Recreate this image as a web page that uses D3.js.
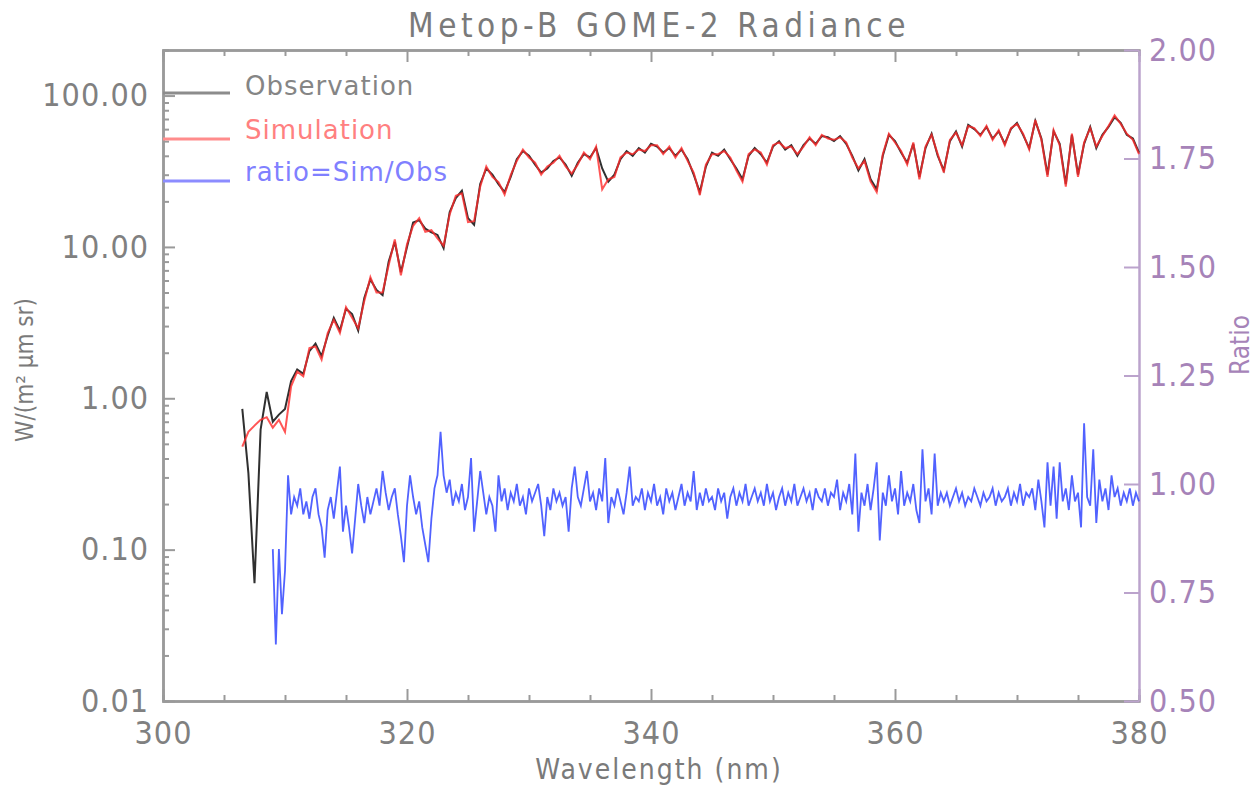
<!DOCTYPE html>
<html>
<head>
<meta charset="utf-8">
<title>Metop-B GOME-2 Radiance</title>
<script src="https://cdn.jsdelivr.net/npm/d3@7"></script>
<style>
    body { margin: 0; background: #fff; }
    #chart-area text { font-family: 'DejaVu Sans Condensed', 'Liberation Sans Narrow', 'DejaVu Sans', sans-serif; }
</style>
</head>
<body>
<div id="chart-area"></div>
<script>

let obsStart = 306.5;
let obsStep = 0.5;

let observation = [
    0.85, 0.32, 0.06, 0.62, 1.10, 0.70, 0.78, 0.85, 1.30, 1.55,
    1.45, 2.05, 2.30, 1.90, 2.60, 3.40, 2.80, 3.90, 3.60, 2.80,
    4.60, 6.10, 5.20, 4.80, 8.00, 10.8, 6.80, 10.0, 14.5, 15.0,
    13.2, 12.5, 12.0, 9.80, 17.0, 21.0, 23.5, 15.5, 14.0, 26.0,
    33.0, 30.0, 26.0, 23.0, 29.0, 38.0, 43.0, 40.0, 35.0, 31.0,
    33.0, 37.0, 39.0, 35.0, 29.5, 36.0, 41.0, 39.0, 45.0, 33.0,
    27.0, 30.0, 38.0, 43.0, 40.0, 45.0, 42.0, 48.0, 46.0, 42.0,
    45.0, 40.0, 44.0, 38.0, 30.0, 23.0, 34.0, 42.0, 40.0, 44.0,
    38.0, 33.0, 28.0, 40.0, 45.0, 41.0, 36.0, 46.0, 50.0, 44.0,
    47.0, 40.0, 47.0, 52.0, 48.0, 54.0, 53.0, 50.0, 54.0, 48.0,
    40.0, 32.0, 38.0, 28.0, 24.0, 40.0, 55.0, 50.0, 42.0, 36.0,
    48.0, 29.0, 45.0, 56.0, 40.0, 32.0, 50.0, 58.0, 46.0, 64.0,
    60.0, 55.0, 62.0, 52.0, 58.0, 48.0, 60.0, 66.0, 55.0, 45.0,
    68.0, 52.0, 30.0, 58.0, 48.0, 26.0, 55.0, 30.0, 48.0, 62.0,
    45.0, 55.0, 62.0, 72.0, 66.0, 55.0, 52.0, 42.0
];

let simulation = [
    0.48, 0.60, 0.66, 0.72, 0.75, 0.64, 0.72, 0.60, 1.20, 1.50,
    1.40, 2.15, 2.20, 1.80, 2.70, 3.30, 2.70, 4.00, 3.40, 2.90,
    4.40, 6.30, 5.00, 5.00, 7.60, 11.2, 6.50, 10.4, 13.8, 15.5,
    12.6, 12.9, 11.4, 10.2, 16.4, 21.8, 22.6, 14.6, 14.8, 25.0,
    34.0, 29.0, 26.8, 22.2, 29.8, 37.0, 44.0, 39.0, 36.0, 30.0,
    34.0, 36.0, 40.0, 34.0, 30.5, 35.0, 42.0, 38.0, 46.0, 24.0,
    28.0, 29.0, 39.0, 42.0, 41.0, 44.0, 43.0, 47.0, 47.0, 41.0,
    46.0, 39.0, 45.0, 37.0, 31.0, 22.0, 35.0, 41.0, 41.0, 43.0,
    39.0, 32.0, 27.0, 41.0, 44.0, 42.0, 35.0, 47.0, 49.0, 45.0,
    46.0, 41.0, 46.0, 53.0, 47.0, 55.0, 52.0, 51.0, 53.0, 49.0,
    39.0, 33.0, 37.0, 27.0, 23.0, 41.0, 56.0, 49.0, 43.0, 35.0,
    49.0, 28.0, 46.0, 55.0, 41.0, 31.0, 51.0, 57.0, 47.0, 63.0,
    61.0, 54.0, 63.0, 51.0, 59.0, 47.0, 61.0, 65.0, 56.0, 44.0,
    69.0, 51.0, 29.0, 59.0, 47.0, 25.0, 56.0, 29.0, 49.0, 61.0,
    46.0, 54.0, 63.0, 74.0, 65.0, 56.0, 51.0, 41.0
];

// ratio is on a finer grid, every 0.25 nm from 309 nm
let ratioStart = 309.0;
let ratioStep = 0.25;

let ratio = [
    0.85, 0.63, 0.85, 0.70, 0.80, 1.02, 0.93, 0.97, 0.95, 0.99, 0.93, 0.96, 0.92, 0.97, 0.99, 0.93, 0.90, 0.83, 0.94, 0.97,
    0.92, 0.98, 1.04, 0.89, 0.95, 0.90, 0.84, 0.92, 1.00, 0.95, 0.91, 0.97, 0.93, 0.96, 0.99, 0.95, 1.03, 0.98, 0.94, 0.97,
    0.99, 0.93, 0.88, 0.82, 0.95, 1.02, 0.97, 0.93, 0.96, 0.90, 0.86, 0.82, 0.92, 0.99, 1.02, 1.12, 1.02, 0.98, 1.01, 0.95,
    0.98, 0.96, 1.00, 0.94, 0.97, 1.06, 0.89, 0.96, 1.03, 0.98, 0.93, 0.97, 0.95, 0.89, 1.02, 0.96, 0.99, 0.94, 0.98, 0.96,
    1.00, 0.95, 0.97, 0.93, 0.99, 0.96, 0.98, 1.00, 0.95, 0.88, 0.97, 0.94, 0.99, 0.96, 0.98, 0.95, 0.97, 0.89, 0.99, 1.04,
    0.97, 0.95, 0.99, 1.03, 0.96, 0.98, 0.94, 0.99, 0.96, 1.06, 0.91, 0.97, 0.95, 0.99, 0.96, 0.93, 0.98, 1.04, 0.95, 0.97,
    0.96, 0.99, 0.94, 0.98, 0.96, 1.00, 0.95, 0.97, 0.93, 0.99, 0.96, 0.98, 0.94, 0.97, 1.00, 0.95, 0.98, 0.96, 1.03, 0.94,
    0.98, 0.95, 0.99, 0.96, 0.97, 0.94, 0.99, 0.96, 0.98, 0.92, 0.97, 0.99, 0.95, 0.98, 0.96, 1.00, 0.95, 0.97, 0.99, 0.96,
    0.98, 0.95, 1.00, 0.96, 0.98, 0.94, 0.97, 0.99, 0.95, 0.98, 0.96, 1.00, 0.95, 0.97, 0.99, 0.96, 0.98, 0.94, 0.99, 0.97,
    0.96, 0.99, 0.95, 0.98, 0.97, 1.01, 0.94, 0.98, 0.96, 1.00, 0.93, 1.07, 0.89, 0.98, 0.95, 1.00, 0.94, 0.99, 1.05, 0.87,
    0.98, 0.95, 1.02, 0.96, 0.99, 0.93, 1.03, 0.95, 0.98, 0.96, 1.00, 0.94, 0.91, 1.08, 0.96, 0.99, 0.93, 1.07, 0.95, 0.98,
    0.96, 0.98, 0.95, 0.97, 0.99, 0.96, 0.98, 0.95, 0.97, 0.96, 0.99, 0.97, 0.95, 0.98, 0.96, 0.97, 0.99, 0.95, 0.98, 0.96,
    0.97, 0.99, 0.95, 0.98, 0.96, 1.00, 0.95, 0.98, 0.97, 0.99, 0.94, 1.01, 0.96, 0.90, 1.05, 0.95, 1.04, 0.92, 1.05, 0.96,
    0.99, 0.94, 1.02, 0.96, 0.98, 0.90, 1.14, 0.97, 0.95, 1.08, 0.91, 1.01, 0.96, 0.99, 0.94, 1.02, 0.97, 0.99, 0.95, 0.98,
    0.96, 0.99, 0.95, 0.98, 0.96
];

// axes
let xTicks = [300, 320, 340, 360, 380];
let yTicks = [0.01, 0.1, 1, 10, 100];
let ratioTicks = [0.5, 0.75, 1.0, 1.25, 1.5, 1.75, 2.0];

let legendLabels = ['Observation', 'Simulation', 'ratio=Sim/Obs'];


class SpectrumChart {

    constructor(parentElement) {
        this.parentElement = parentElement;

        this.initVis()
    }

    initVis() {

        let vis = this;

        vis.margin = {top: 50, right: 115, bottom: 84, left: 163};
        vis.width = 1254 - vis.margin.left - vis.margin.right;
        vis.height = 785 - vis.margin.top - vis.margin.bottom;

        vis.svg = d3.select('#' + vis.parentElement).append('svg')
            .attr('width', vis.width + vis.margin.left + vis.margin.right)
            .attr('height', vis.height + vis.margin.top + vis.margin.bottom)
            .append('g')
            .attr('transform', `translate (${vis.margin.left}, ${vis.margin.top})`);

        // scales
        vis.xScale = d3.scaleLinear()
            .domain([300, 380])
            .range([0, vis.width]);

        vis.yScale = d3.scaleLog()
            .domain([0.01, 200])
            .range([vis.height, 0]);

        vis.rScale = d3.scaleLinear()
            .domain([0.5, 2.0])
            .range([vis.height, 0]);

        // title
        vis.svg.append('text')
            .attr('x', vis.width / 2 + 8)
            .attr('y', -25)
            .attr('text-anchor', 'middle')
            .attr('dominant-baseline', 'central')
            .style('font-size', '33px')
            .style('letter-spacing', '4.5px')
            .style('fill', '#7a7a7a')
            .text('Metop-B GOME-2 Radiance');

        // axis titles
        vis.svg.append('text')
            .attr('x', vis.width / 2 + 8)
            .attr('y', vis.height + 68)
            .attr('text-anchor', 'middle')
            .attr('dominant-baseline', 'central')
            .style('font-size', '28px')
            .style('letter-spacing', '2px')
            .style('fill', '#7a7a7a')
            .text('Wavelength (nm)');

        vis.svg.append('text')
            .attr('transform', `translate(${-138}, ${320}) rotate(-90)`)
            .attr('text-anchor', 'middle')
            .attr('dominant-baseline', 'central')
            .style('font-size', '24px')
            .style('fill', '#7a7a7a')
            .text('W/(m² µm sr)');

        vis.svg.append('text')
            .attr('transform', `translate(${vis.width + 101}, ${295}) rotate(-90)`)
            .attr('text-anchor', 'middle')
            .attr('dominant-baseline', 'central')
            .style('font-size', '26px')
            .style('fill', '#a683b8')
            .text('Ratio');

        vis.wrangleData()
    }

    wrangleData() {

        let vis = this;

        vis.obsData = observation.map((v, i) => ({wl: obsStart + i * obsStep, value: v}));
        vis.simData = simulation.map((v, i) => ({wl: obsStart + i * obsStep, value: v}));
        vis.ratioData = ratio.map((v, i) => ({wl: ratioStart + i * ratioStep, value: v}));

        vis.updateVis()
    }

    updateVis() {

        let vis = this;

        let grey = '#9a9a9a';
        let labelGrey = '#808080';
        let purple = '#bba3cc';

        // minor ticks every 5 nm, major every 20
        let xMinor = d3.range(300, 381, 5).filter(d => xTicks.indexOf(d) < 0);
        let yMinor = [];
        yTicks.forEach(t => {
            d3.range(2, 10).forEach(m => {
                if (t * m <= 200) yMinor.push(t * m);
            });
        });

        function styleAxis(g, col, txtCol) {
            g.select('.domain').attr('stroke', col).attr('stroke-width', 2.5);
            g.selectAll('.tick line').attr('stroke', col).attr('stroke-width', 2);
            g.selectAll('.tick text')
                .style('fill', txtCol)
                .style('font-size', '32px')
                .style('letter-spacing', '1px');
        }

        // bottom
        vis.svg.append('g')
            .attr('transform', `translate(0, ${vis.height})`)
            .call(d3.axisBottom(vis.xScale).tickValues(xMinor).tickSize(-6).tickFormat(''))
            .call(g => styleAxis(g, grey, labelGrey));
        vis.svg.append('g')
            .attr('class', 'x-axis axis')
            .attr('transform', `translate(0, ${vis.height})`)
            .call(d3.axisBottom(vis.xScale).tickValues(xTicks).tickSizeInner(-12).tickSizeOuter(0).tickPadding(20).tickFormat(d3.format('d')))
            .call(g => styleAxis(g, grey, labelGrey));

        // top
        vis.svg.append('g')
            .call(d3.axisTop(vis.xScale).tickValues(xMinor).tickSize(-6).tickFormat(''))
            .call(g => styleAxis(g, grey, labelGrey));
        vis.svg.append('g')
            .call(d3.axisTop(vis.xScale).tickValues(xTicks).tickSizeInner(-12).tickSizeOuter(0).tickFormat(''))
            .call(g => styleAxis(g, grey, labelGrey));

        // left, log
        vis.svg.append('g')
            .call(d3.axisLeft(vis.yScale).tickValues(yMinor).tickSize(-6).tickFormat(''))
            .call(g => styleAxis(g, grey, labelGrey));
        vis.svg.append('g')
            .attr('class', 'y-axis axis')
            .call(d3.axisLeft(vis.yScale).tickValues(yTicks).tickSizeInner(-12).tickSizeOuter(0).tickPadding(14).tickFormat(d3.format('.2f')))
            .call(g => styleAxis(g, grey, labelGrey));

        // right, ratio
        vis.svg.append('g')
            .attr('class', 'r-axis axis')
            .attr('transform', `translate(${vis.width}, 0)`)
            .call(d3.axisRight(vis.rScale).tickValues(ratioTicks).tickSizeInner(-15).tickSizeOuter(0).tickPadding(10).tickFormat(d3.format('.2f')))
            .call(g => styleAxis(g, purple, '#a683b8'));

        // lines
        let radLine = d3.line()
            .x(d => vis.xScale(d.wl))
            .y(d => vis.yScale(d.value));

        let ratioLine = d3.line()
            .x(d => vis.xScale(d.wl))
            .y(d => vis.rScale(d.value));

        vis.svg.append('path')
            .datum(vis.obsData)
            .attr('d', radLine)
            .attr('fill', 'none')
            .attr('stroke', '#303030')
            .attr('stroke-width', 2);

        vis.svg.append('path')
            .datum(vis.simData)
            .attr('d', radLine)
            .attr('fill', 'none')
            .attr('stroke', '#ff2a2a')
            .attr('stroke-opacity', 0.8)
            .attr('stroke-width', 2);

        vis.svg.append('path')
            .datum(vis.ratioData)
            .attr('d', ratioLine)
            .attr('fill', 'none')
            .attr('stroke', '#3347ff')
            .attr('stroke-opacity', 0.85)
            .attr('stroke-width', 1.8);

        // legend
        let legendColors = ['#8c8c8c', '#ff8c8c', '#8c8cff'];
        let legendText = ['#858585', '#ff8080', '#8080ff'];
        let legendY = [42, 86, 128];

        let legend = vis.svg.selectAll('.legend')
            .data(legendLabels)
            .enter()
            .append('g')
            .attr('class', 'legend')
            .attr('transform', (d, i) => `translate(0, ${legendY[i]})`);

        legend.append('line')
            .attr('x1', 0)
            .attr('x2', 67)
            .attr('y1', (d, i) => [1, 3, 3][i])
            .attr('y2', (d, i) => [1, 3, 3][i])
            .attr('stroke', (d, i) => legendColors[i])
            .attr('stroke-width', 3);

        legend.append('text')
            .attr('x', 82)
            .attr('y', -6)
            .attr('dominant-baseline', 'central')
            .style('font-family', "'DejaVu Sans', sans-serif")
            .style('font-size', '26px')
            .style('letter-spacing', '1px')
            .style('fill', (d, i) => legendText[i])
            .text(d => d);
    }
}

let chart = new SpectrumChart('chart-area');

</script>
</body>
</html>
